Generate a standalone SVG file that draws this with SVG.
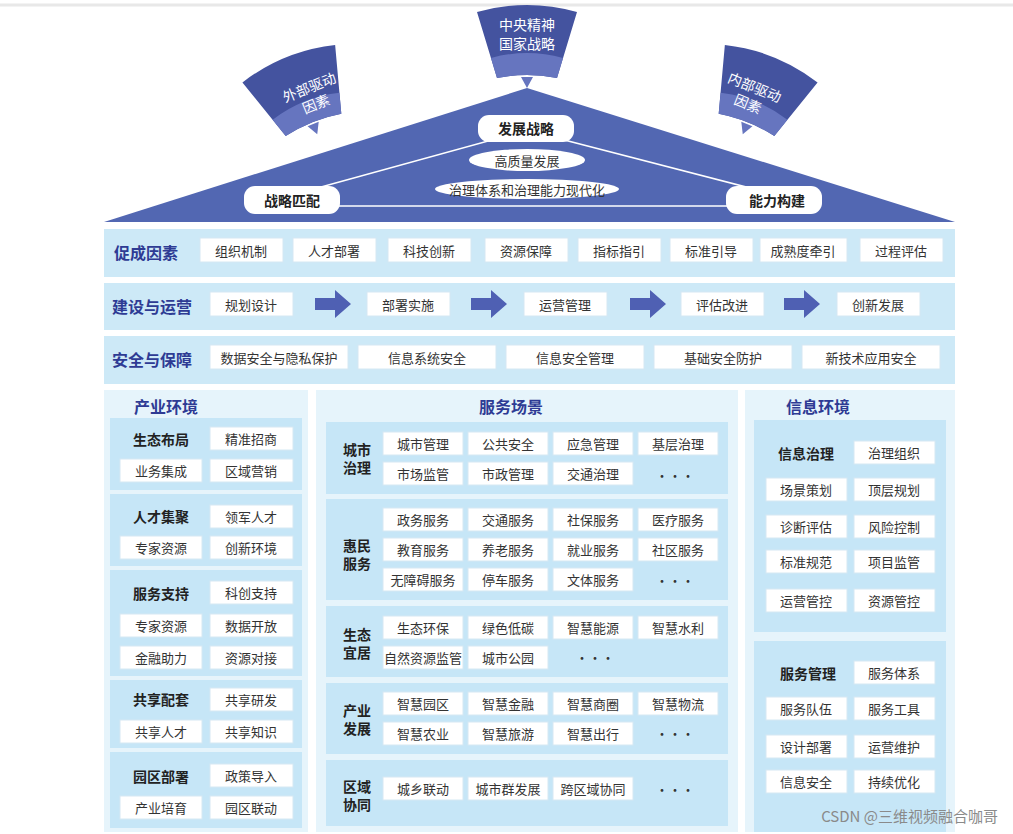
<svg xmlns="http://www.w3.org/2000/svg" width="1013" height="834" viewBox="0 0 1013 834">
<defs>
<style>
text{font-family:"Noto Sans CJK SC","Noto Sans",sans-serif;}
.bx{fill:#fff;stroke:#d5e8f3;stroke-width:1}
.t{font-size:13px;fill:#333;text-anchor:middle;dominant-baseline:central}
.lb{font-size:14px;font-weight:bold;fill:#222;text-anchor:middle;dominant-baseline:central}
.rl{font-size:16px;font-weight:bold;fill:#2e3b94;dominant-baseline:central}
.ti{font-size:16px;font-weight:bold;fill:#2e3b94;text-anchor:middle;dominant-baseline:central}
.row{fill:#cde9f7}
.pan{fill:#e6f4fb}
.sub{fill:#c6e6f7}
.pill{fill:#fff}
.pt{font-size:14px;font-weight:bold;fill:#222;text-anchor:middle;dominant-baseline:central}
.wt{font-size:13px;fill:#fff;text-anchor:middle;dominant-baseline:central}
.fan{fill:#44539f}
.fanl{fill:#6675bf}
.arr{fill:#4f60b3}
</style>
<g id="fanshape">
<path class="fan" d="M-50,-78 Q0,-92 50,-78 L30,-12 Q0,-18 -30,-12 Z"/>
<path class="fanl" d="M-36,-32 Q0,-42 36,-32 L30,-12 Q0,-18 -30,-12 Z"/>
<path class="fanl" d="M-6,-13 L0,-2 L6,-13 Z"/>
</g>
</defs>
<rect width="1013" height="834" fill="#fff"/>
<line x1="0" y1="5" x2="1013" y2="5" stroke="#e8e8e8" stroke-width="3"/>

<g id="top">
<polygon points="104,222 527,88 955,222" fill="#5267b2"/>
<use href="#fanshape" transform="translate(527,90)"/>
<use href="#fanshape" transform="translate(318,136) rotate(-22)"/>
<use href="#fanshape" transform="translate(742,136) rotate(22)"/>
<text class="wt" x="527" y="24" style="font-size:14px">中央精神</text>
<text class="wt" x="527" y="43" style="font-size:14px">国家战略</text>
<g transform="translate(312,94) rotate(-22)"><text class="wt" x="0" y="-8" style="font-size:14px">外部驱动</text><text class="wt" x="0" y="10" style="font-size:14px">因素</text></g>
<g transform="translate(752,94) rotate(22)"><text class="wt" x="0" y="-8" style="font-size:14px">内部驱动</text><text class="wt" x="0" y="10" style="font-size:14px">因素</text></g>
<g stroke="#fff" stroke-width="1.5" fill="none">
<line x1="510" y1="135" x2="292" y2="195"/>
<line x1="545" y1="135" x2="777" y2="195"/>
<line x1="330" y1="206" x2="740" y2="206"/>
</g>
<rect class="pill" x="478" y="115" width="96" height="27" rx="11"/><text class="pt" x="526" y="128">发展战略</text>
<rect class="pill" x="244" y="186" width="96" height="28" rx="11"/><text class="pt" x="292" y="200">战略匹配</text>
<rect class="pill" x="726" y="186" width="96" height="28" rx="11"/><text class="pt" x="777" y="200">能力构建</text>
<ellipse class="pill" cx="527" cy="160" rx="58" ry="11"/><text class="t" x="527" y="160">高质量发展</text>
<ellipse class="pill" cx="527" cy="189" rx="92" ry="10"/><text class="t" x="527" y="189">治理体系和治理能力现代化</text>
</g>

<g id="row1">
<rect class="row" x="104" y="229" width="851" height="48"/>
<text class="rl" x="114" y="252">促成因素</text>
<rect class="bx" x="200" y="238" width="83" height="24"/><text class="t" x="241" y="250">组织机制</text>
<rect class="bx" x="293" y="238" width="83" height="24"/><text class="t" x="334" y="250">人才部署</text>
<rect class="bx" x="388" y="238" width="83" height="24"/><text class="t" x="429" y="250">科技创新</text>
<rect class="bx" x="485" y="238" width="83" height="24"/><text class="t" x="526" y="250">资源保障</text>
<rect class="bx" x="578" y="238" width="83" height="24"/><text class="t" x="619" y="250">指标指引</text>
<rect class="bx" x="670" y="238" width="83" height="24"/><text class="t" x="711" y="250">标准引导</text>
<rect class="bx" x="760" y="238" width="87" height="24"/><text class="t" x="803" y="250">成熟度牵引</text>
<rect class="bx" x="860" y="238" width="83" height="24"/><text class="t" x="901" y="250">过程评估</text>
</g>

<g id="row2">
<rect class="row" x="104" y="283" width="851" height="47"/>
<text class="rl" x="112" y="306">建设与运营</text>
<rect class="bx" x="210" y="292" width="83" height="24"/><text class="t" x="251" y="304">规划设计</text>
<rect class="bx" x="367" y="292" width="83" height="24"/><text class="t" x="408" y="304">部署实施</text>
<rect class="bx" x="524" y="292" width="83" height="24"/><text class="t" x="565" y="304">运营管理</text>
<rect class="bx" x="681" y="292" width="83" height="24"/><text class="t" x="722" y="304">评估改进</text>
<rect class="bx" x="837" y="292" width="83" height="24"/><text class="t" x="878" y="304">创新发展</text>
</g>

<g id="connectors">
<path class="arr" d="M315,298 h20 v-8 l16,14 l-16,14 v-8 h-20 Z"/>
<path class="arr" d="M471,298 h20 v-8 l16,14 l-16,14 v-8 h-20 Z"/>
<path class="arr" d="M630,298 h20 v-8 l16,14 l-16,14 v-8 h-20 Z"/>
<path class="arr" d="M784,298 h20 v-8 l16,14 l-16,14 v-8 h-20 Z"/>
</g>

<g id="row3">
<rect class="row" x="104" y="336" width="851" height="48"/>
<text class="rl" x="112" y="359">安全与保障</text>
<rect class="bx" x="210" y="345" width="138" height="24"/><text class="t" x="279" y="357">数据安全与隐私保护</text>
<rect class="bx" x="358" y="345" width="138" height="24"/><text class="t" x="427" y="357">信息系统安全</text>
<rect class="bx" x="506" y="345" width="138" height="24"/><text class="t" x="575" y="357">信息安全管理</text>
<rect class="bx" x="654" y="345" width="138" height="24"/><text class="t" x="723" y="357">基础安全防护</text>
<rect class="bx" x="802" y="345" width="138" height="24"/><text class="t" x="871" y="357">新技术应用安全</text>
</g>

<g id="left">
<rect class="pan" x="104" y="390" width="204" height="442"/>
<text class="ti" x="166" y="406">产业环境</text>
<rect class="sub" x="110" y="418" width="192" height="72"/>
<rect class="sub" x="110" y="494" width="192" height="72"/>
<rect class="sub" x="110" y="570" width="192" height="106"/>
<rect class="sub" x="110" y="680" width="192" height="68"/>
<rect class="sub" x="110" y="752" width="192" height="76"/>
<text class="lb" x="161" y="439">生态布局</text>
<rect class="bx" x="210" y="427" width="83" height="23"/><text class="t" x="251" y="438">精准招商</text>
<rect class="bx" x="120" y="459" width="82" height="23"/><text class="t" x="161" y="470">业务集成</text>
<rect class="bx" x="210" y="459" width="83" height="23"/><text class="t" x="251" y="470">区域营销</text>
<text class="lb" x="161" y="516">人才集聚</text>
<rect class="bx" x="210" y="505" width="83" height="23"/><text class="t" x="251" y="516">领军人才</text>
<rect class="bx" x="120" y="536" width="82" height="23"/><text class="t" x="161" y="547">专家资源</text>
<rect class="bx" x="210" y="536" width="83" height="23"/><text class="t" x="251" y="547">创新环境</text>
<text class="lb" x="161" y="593">服务支持</text>
<rect class="bx" x="210" y="581" width="83" height="23"/><text class="t" x="251" y="592">科创支持</text>
<rect class="bx" x="120" y="614" width="82" height="23"/><text class="t" x="161" y="625">专家资源</text>
<rect class="bx" x="210" y="614" width="83" height="23"/><text class="t" x="251" y="625">数据开放</text>
<rect class="bx" x="120" y="646" width="82" height="23"/><text class="t" x="161" y="657">金融助力</text>
<rect class="bx" x="210" y="646" width="83" height="23"/><text class="t" x="251" y="657">资源对接</text>
<text class="lb" x="161" y="699">共享配套</text>
<rect class="bx" x="210" y="688" width="83" height="23"/><text class="t" x="251" y="699">共享研发</text>
<rect class="bx" x="120" y="720" width="82" height="23"/><text class="t" x="161" y="731">共享人才</text>
<rect class="bx" x="210" y="720" width="83" height="23"/><text class="t" x="251" y="731">共享知识</text>
<text class="lb" x="161" y="776">园区部署</text>
<rect class="bx" x="210" y="764" width="83" height="23"/><text class="t" x="251" y="775">政策导入</text>
<rect class="bx" x="120" y="796" width="82" height="23"/><text class="t" x="161" y="807">产业培育</text>
<rect class="bx" x="210" y="796" width="83" height="23"/><text class="t" x="251" y="807">园区联动</text>
</g>

<g id="middle">
<rect class="pan" x="316" y="390" width="422" height="442"/>
<text class="ti" x="511" y="406">服务场景</text>
<rect class="sub" x="326" y="422" width="402" height="72"/>
<rect class="sub" x="326" y="499" width="402" height="101"/>
<rect class="sub" x="326" y="606" width="402" height="71"/>
<rect class="sub" x="326" y="683" width="402" height="71"/>
<rect class="sub" x="326" y="760" width="402" height="66"/>
<text class="lb" x="357" y="449">城市</text><text class="lb" x="357" y="467">治理</text>
<rect class="bx" x="383" y="432" width="80" height="23"/><text class="t" x="423" y="443">城市管理</text>
<rect class="bx" x="468" y="432" width="80" height="23"/><text class="t" x="508" y="443">公共安全</text>
<rect class="bx" x="553" y="432" width="80" height="23"/><text class="t" x="593" y="443">应急管理</text>
<rect class="bx" x="638" y="432" width="80" height="23"/><text class="t" x="678" y="443">基层治理</text>
<rect class="bx" x="383" y="462" width="80" height="23"/><text class="t" x="423" y="473">市场监管</text>
<rect class="bx" x="468" y="462" width="80" height="23"/><text class="t" x="508" y="473">市政管理</text>
<rect class="bx" x="553" y="462" width="80" height="23"/><text class="t" x="593" y="473">交通治理</text>
<text class="t" x="675" y="475">···</text>
<text class="lb" x="357" y="545">惠民</text><text class="lb" x="357" y="563">服务</text>
<rect class="bx" x="383" y="508" width="80" height="23"/><text class="t" x="423" y="519">政务服务</text>
<rect class="bx" x="468" y="508" width="80" height="23"/><text class="t" x="508" y="519">交通服务</text>
<rect class="bx" x="553" y="508" width="80" height="23"/><text class="t" x="593" y="519">社保服务</text>
<rect class="bx" x="638" y="508" width="80" height="23"/><text class="t" x="678" y="519">医疗服务</text>
<rect class="bx" x="383" y="538" width="80" height="23"/><text class="t" x="423" y="549">教育服务</text>
<rect class="bx" x="468" y="538" width="80" height="23"/><text class="t" x="508" y="549">养老服务</text>
<rect class="bx" x="553" y="538" width="80" height="23"/><text class="t" x="593" y="549">就业服务</text>
<rect class="bx" x="638" y="538" width="80" height="23"/><text class="t" x="678" y="549">社区服务</text>
<rect class="bx" x="383" y="568" width="80" height="23"/><text class="t" x="423" y="579">无障碍服务</text>
<rect class="bx" x="468" y="568" width="80" height="23"/><text class="t" x="508" y="579">停车服务</text>
<rect class="bx" x="553" y="568" width="80" height="23"/><text class="t" x="593" y="579">文体服务</text>
<text class="t" x="675" y="580">···</text>
<text class="lb" x="357" y="634">生态</text><text class="lb" x="357" y="652">宜居</text>
<rect class="bx" x="383" y="616" width="80" height="23"/><text class="t" x="423" y="627">生态环保</text>
<rect class="bx" x="468" y="616" width="80" height="23"/><text class="t" x="508" y="627">绿色低碳</text>
<rect class="bx" x="553" y="616" width="80" height="23"/><text class="t" x="593" y="627">智慧能源</text>
<rect class="bx" x="638" y="616" width="80" height="23"/><text class="t" x="678" y="627">智慧水利</text>
<rect class="bx" x="383" y="646" width="80" height="23"/><text class="t" x="423" y="657">自然资源监管</text>
<rect class="bx" x="468" y="646" width="80" height="23"/><text class="t" x="508" y="657">城市公园</text>
<text class="t" x="595" y="657">···</text>
<text class="lb" x="357" y="710">产业</text><text class="lb" x="357" y="728">发展</text>
<rect class="bx" x="383" y="692" width="80" height="23"/><text class="t" x="423" y="703">智慧园区</text>
<rect class="bx" x="468" y="692" width="80" height="23"/><text class="t" x="508" y="703">智慧金融</text>
<rect class="bx" x="553" y="692" width="80" height="23"/><text class="t" x="593" y="703">智慧商圈</text>
<rect class="bx" x="638" y="692" width="80" height="23"/><text class="t" x="678" y="703">智慧物流</text>
<rect class="bx" x="383" y="722" width="80" height="23"/><text class="t" x="423" y="733">智慧农业</text>
<rect class="bx" x="468" y="722" width="80" height="23"/><text class="t" x="508" y="733">智慧旅游</text>
<rect class="bx" x="553" y="722" width="80" height="23"/><text class="t" x="593" y="733">智慧出行</text>
<text class="t" x="675" y="733">···</text>
<text class="lb" x="357" y="786">区域</text><text class="lb" x="357" y="804">协同</text>
<rect class="bx" x="383" y="777" width="80" height="23"/><text class="t" x="423" y="788">城乡联动</text>
<rect class="bx" x="468" y="777" width="80" height="23"/><text class="t" x="508" y="788">城市群发展</text>
<rect class="bx" x="553" y="777" width="80" height="23"/><text class="t" x="593" y="788">跨区域协同</text>
<text class="t" x="675" y="789">···</text>
</g>

<g id="right">
<rect class="pan" x="745" y="390" width="210" height="442"/>
<text class="ti" x="818" y="406">信息环境</text>
<rect class="sub" x="754" y="420" width="192" height="212"/>
<rect class="sub" x="754" y="641" width="192" height="191"/>
<text class="lb" x="806" y="453">信息治理</text>
<rect class="bx" x="854" y="441" width="81" height="23"/><text class="t" x="894" y="452">治理组织</text>
<rect class="bx" x="766" y="478" width="81" height="23"/><text class="t" x="806" y="489">场景策划</text>
<rect class="bx" x="854" y="478" width="81" height="23"/><text class="t" x="894" y="489">顶层规划</text>
<rect class="bx" x="766" y="515" width="81" height="23"/><text class="t" x="806" y="526">诊断评估</text>
<rect class="bx" x="854" y="515" width="81" height="23"/><text class="t" x="894" y="526">风险控制</text>
<rect class="bx" x="766" y="550" width="81" height="23"/><text class="t" x="806" y="561">标准规范</text>
<rect class="bx" x="854" y="550" width="81" height="23"/><text class="t" x="894" y="561">项目监管</text>
<rect class="bx" x="766" y="589" width="81" height="23"/><text class="t" x="806" y="600">运营管控</text>
<rect class="bx" x="854" y="589" width="81" height="23"/><text class="t" x="894" y="600">资源管控</text>
<text class="lb" x="808" y="673">服务管理</text>
<rect class="bx" x="854" y="661" width="81" height="23"/><text class="t" x="894" y="672">服务体系</text>
<rect class="bx" x="766" y="697" width="81" height="23"/><text class="t" x="806" y="708">服务队伍</text>
<rect class="bx" x="854" y="697" width="81" height="23"/><text class="t" x="894" y="708">服务工具</text>
<rect class="bx" x="766" y="735" width="81" height="23"/><text class="t" x="806" y="746">设计部署</text>
<rect class="bx" x="854" y="735" width="81" height="23"/><text class="t" x="894" y="746">运营维护</text>
<rect class="bx" x="766" y="770" width="81" height="23"/><text class="t" x="806" y="781">信息安全</text>
<rect class="bx" x="854" y="770" width="81" height="23"/><text class="t" x="894" y="781">持续优化</text>
</g>
<text x="998" y="815" style="font-size:15px;fill:#8a8a8a;text-anchor:end;dominant-baseline:central">CSDN @三维视频融合咖哥</text>
</svg>
